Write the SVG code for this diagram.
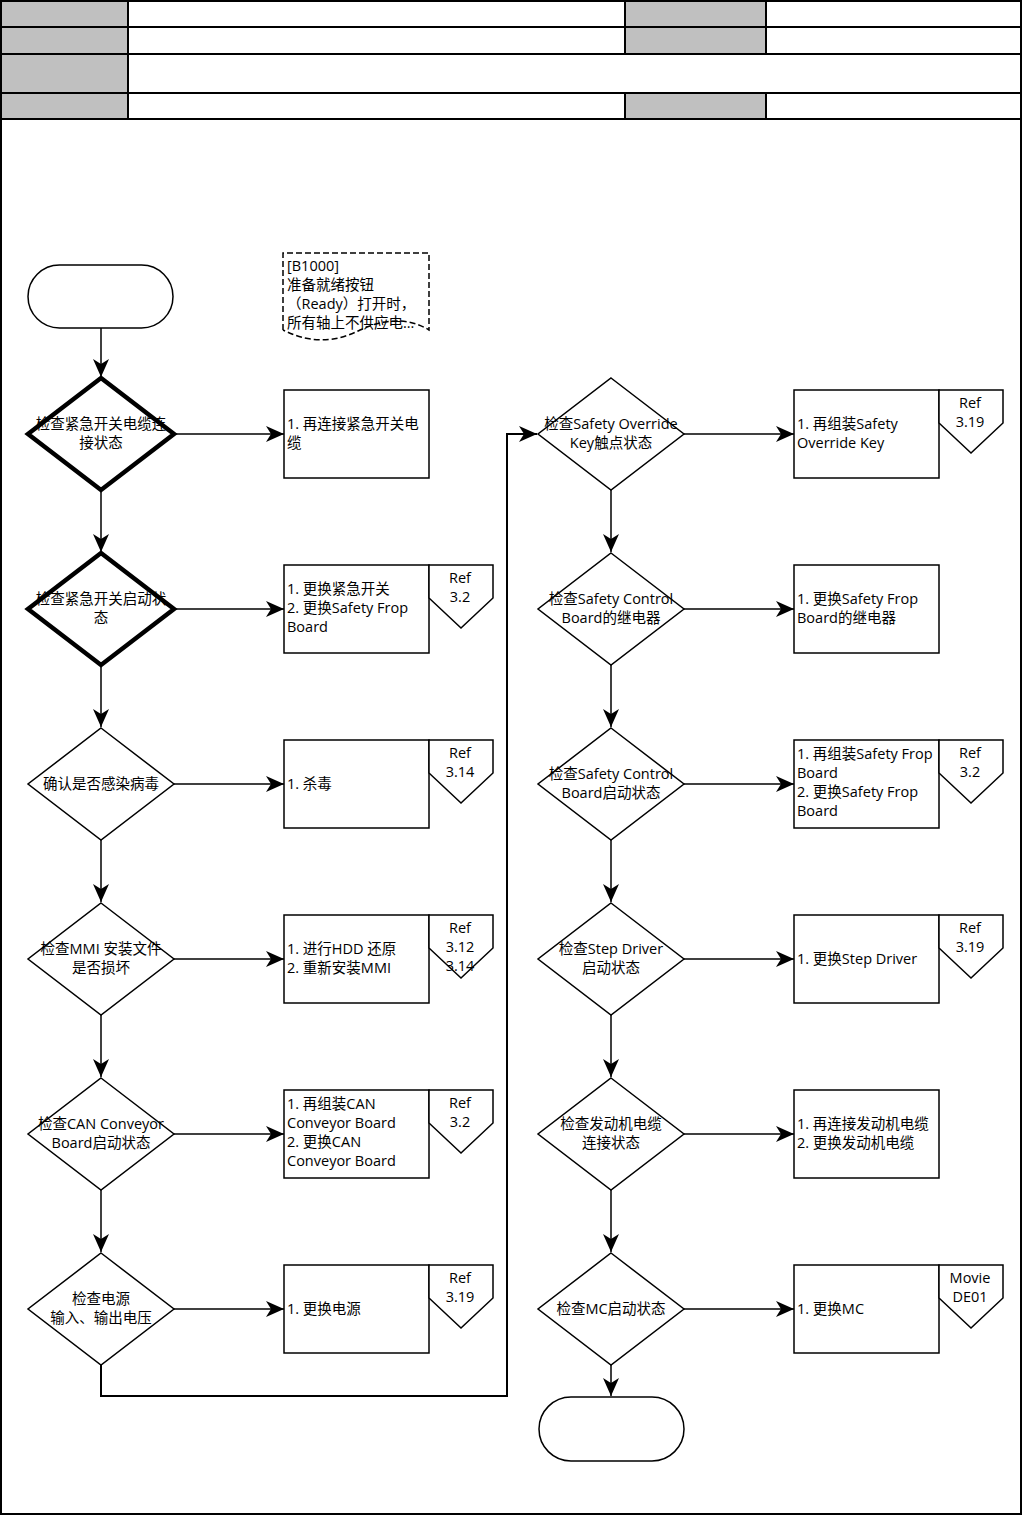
<svg xmlns="http://www.w3.org/2000/svg" width="1023" height="1516" viewBox="0 0 1023 1516">
<style>
text{font-family:"Open Sans","Noto Sans CJK SC",sans-serif;font-size:14.5px;fill:#000;dominant-baseline:central}
.c{text-anchor:middle}
.hdr{fill:#c0c0c0;stroke:none}
.ln{stroke:#000;stroke-width:2;fill:none}
.dia{fill:#fff;stroke:#000;stroke-width:1.5}
.dia.thick{stroke-width:4.5}
.box{fill:#fff;stroke:#000;stroke-width:1.5}
.tag{fill:#fff;stroke:#000;stroke-width:1.5}
.term{fill:#fff;stroke:#000;stroke-width:1.5}
.con{stroke:#000;stroke-width:1.5;fill:none}
.con2{stroke:#000;stroke-width:2;fill:none}
</style>
<defs>
<marker id="arr" viewBox="0 0 18 16" refX="18" refY="8" markerWidth="18" markerHeight="16" markerUnits="userSpaceOnUse" orient="auto">
<path d="M0,0 L18,8 L0,16 L5,8 Z" fill="#000"/>
</marker>
</defs>
<rect x="0" y="0" width="1023" height="1516" fill="#fff"/>
<g id="header">
<rect class="hdr" x="2" y="2" width="126" height="25"/>
<rect class="hdr" x="625" y="2" width="141" height="25"/>
<rect class="hdr" x="2" y="27" width="126" height="27"/>
<rect class="hdr" x="625" y="27" width="141" height="27"/>
<rect class="hdr" x="2" y="54" width="126" height="39"/>
<rect class="hdr" x="2" y="93" width="126" height="26"/>
<rect class="hdr" x="625" y="93" width="141" height="26"/>
<path class="ln" d="M1,27 H1021 M1,54 H1021 M1,93 H1021 M1,119 H1021 M128,1 V119 M625,1 V54 M766,1 V54 M625,93 V119 M766,93 V119"/>
<rect x="1" y="1" width="1020" height="1513" fill="none" stroke="#000" stroke-width="2"/>
</g>
<g id="connectors">
<path class="con" d="M101,328 V377" marker-end="url(#arr)"/>
<path class="con" d="M101,490 V552" marker-end="url(#arr)"/>
<path class="con" d="M101,665 V727" marker-end="url(#arr)"/>
<path class="con" d="M101,840 V902" marker-end="url(#arr)"/>
<path class="con" d="M101,1015 V1077" marker-end="url(#arr)"/>
<path class="con" d="M101,1190 V1252" marker-end="url(#arr)"/>
<path class="con2" d="M101,1365 V1396 H507 V434 H537" marker-end="url(#arr)"/>
<path class="con" d="M611,490 V552" marker-end="url(#arr)"/>
<path class="con" d="M611,665 V727" marker-end="url(#arr)"/>
<path class="con" d="M611,840 V902" marker-end="url(#arr)"/>
<path class="con" d="M611,1015 V1077" marker-end="url(#arr)"/>
<path class="con" d="M611,1190 V1252" marker-end="url(#arr)"/>
<path class="con" d="M611,1365 V1396" marker-end="url(#arr)"/>
<path class="con" d="M174,434 H284" marker-end="url(#arr)"/>
<path class="con" d="M174,609 H284" marker-end="url(#arr)"/>
<path class="con" d="M174,784 H284" marker-end="url(#arr)"/>
<path class="con" d="M174,959 H284" marker-end="url(#arr)"/>
<path class="con" d="M174,1134 H284" marker-end="url(#arr)"/>
<path class="con" d="M174,1309 H284" marker-end="url(#arr)"/>
<path class="con" d="M684,434 H794" marker-end="url(#arr)"/>
<path class="con" d="M684,609 H794" marker-end="url(#arr)"/>
<path class="con" d="M684,784 H794" marker-end="url(#arr)"/>
<path class="con" d="M684,959 H794" marker-end="url(#arr)"/>
<path class="con" d="M684,1134 H794" marker-end="url(#arr)"/>
<path class="con" d="M684,1309 H794" marker-end="url(#arr)"/>
</g>
<g id="start"><rect class="term" x="28" y="265" width="145" height="63" rx="31.5"/></g>
<g id="end"><rect class="term" x="539" y="1397" width="145" height="64" rx="32"/></g>
<g id="note">
<path d="M283,330 V253 H429 V330 C410,318 385,318 360,330 C340,340 315,346 283,330" fill="#fff" stroke="#000" stroke-width="1.5" stroke-dasharray="6,3"/>
<text x="287" y="265">[B1000]</text>
<text x="287" y="284">准备就绪按钮</text>
<text x="287" y="303">（Ready）打开时，</text>
<text x="287" y="322">所有轴上不供应电...</text>
</g>
<g id="d1"><path class="dia thick" d="M101,378 L174,434 L101,490 L28,434 Z"/><text class="c" x="101" y="423">检查紧急开关电缆连</text><text class="c" x="101" y="442">接状态</text></g>
<g id="d2"><path class="dia thick" d="M101,553 L174,609 L101,665 L28,609 Z"/><text class="c" x="101" y="598">检查紧急开关启动状</text><text class="c" x="101" y="617">态</text></g>
<g id="d3"><path class="dia" d="M101,728 L174,784 L101,840 L28,784 Z"/><text class="c" x="101" y="783">确认是否感染病毒</text></g>
<g id="d4"><path class="dia" d="M101,903 L174,959 L101,1015 L28,959 Z"/><text class="c" x="101" y="948">检查MMI 安装文件</text><text class="c" x="101" y="967">是否损坏</text></g>
<g id="d5"><path class="dia" d="M101,1078 L174,1134 L101,1190 L28,1134 Z"/><text class="c" x="101" y="1123">检查CAN Conveyor</text><text class="c" x="101" y="1142">Board启动状态</text></g>
<g id="d6"><path class="dia" d="M101,1253 L174,1309 L101,1365 L28,1309 Z"/><text class="c" x="101" y="1298">检查电源</text><text class="c" x="101" y="1317">输入、输出电压</text></g>
<g id="b1"><rect class="box" x="284" y="390" width="145" height="88"/><text x="287" y="423">1. 再连接紧急开关电</text><text x="287" y="442">缆</text></g>
<g id="b2"><rect class="box" x="284" y="565" width="145" height="88"/><text x="287" y="588">1. 更换紧急开关</text><text x="287" y="607">2. 更换Safety Frop</text><text x="287" y="626">Board</text>
<path class="tag" d="M429,565 H493 V598 L461,628 L429,598 Z"/><text class="c" x="460" y="577">Ref</text><text class="c" x="460" y="596">3.2</text></g>
<g id="b3"><rect class="box" x="284" y="740" width="145" height="88"/><text x="287" y="783">1. 杀毒</text>
<path class="tag" d="M429,740 H493 V773 L461,803 L429,773 Z"/><text class="c" x="460" y="752">Ref</text><text class="c" x="460" y="771">3.14</text></g>
<g id="b4"><rect class="box" x="284" y="915" width="145" height="88"/><text x="287" y="948">1. 进行HDD 还原</text><text x="287" y="967">2. 重新安装MMI</text>
<path class="tag" d="M429,915 H493 V948 L461,978 L429,948 Z"/><text class="c" x="460" y="927">Ref</text><text class="c" x="460" y="946">3.12</text><text class="c" x="460" y="965">3.14</text></g>
<g id="b5"><rect class="box" x="284" y="1090" width="145" height="88"/><text x="287" y="1103">1. 再组装CAN</text><text x="287" y="1122">Conveyor Board</text><text x="287" y="1141">2. 更换CAN</text><text x="287" y="1160">Conveyor Board</text>
<path class="tag" d="M429,1090 H493 V1123 L461,1153 L429,1123 Z"/><text class="c" x="460" y="1102">Ref</text><text class="c" x="460" y="1121">3.2</text></g>
<g id="b6"><rect class="box" x="284" y="1265" width="145" height="88"/><text x="287" y="1308">1. 更换电源</text>
<path class="tag" d="M429,1265 H493 V1298 L461,1328 L429,1298 Z"/><text class="c" x="460" y="1277">Ref</text><text class="c" x="460" y="1296">3.19</text></g>
<g id="d7"><path class="dia" d="M611,378 L684,434 L611,490 L538,434 Z"/><text class="c" x="611" y="423">检查Safety Override</text><text class="c" x="611" y="442">Key触点状态</text></g>
<g id="d8"><path class="dia" d="M611,553 L684,609 L611,665 L538,609 Z"/><text class="c" x="611" y="598">检查Safety Control</text><text class="c" x="611" y="617">Board的继电器</text></g>
<g id="d9"><path class="dia" d="M611,728 L684,784 L611,840 L538,784 Z"/><text class="c" x="611" y="773">检查Safety Control</text><text class="c" x="611" y="792">Board启动状态</text></g>
<g id="d10"><path class="dia" d="M611,903 L684,959 L611,1015 L538,959 Z"/><text class="c" x="611" y="948">检查Step Driver</text><text class="c" x="611" y="967">启动状态</text></g>
<g id="d11"><path class="dia" d="M611,1078 L684,1134 L611,1190 L538,1134 Z"/><text class="c" x="611" y="1123">检查发动机电缆</text><text class="c" x="611" y="1142">连接状态</text></g>
<g id="d12"><path class="dia" d="M611,1253 L684,1309 L611,1365 L538,1309 Z"/><text class="c" x="611" y="1308">检查MC启动状态</text></g>
<g id="b7"><rect class="box" x="794" y="390" width="145" height="88"/><text x="797" y="423">1. 再组装Safety</text><text x="797" y="442">Override Key</text>
<path class="tag" d="M939,390 H1003 V423 L971,453 L939,423 Z"/><text class="c" x="970" y="402">Ref</text><text class="c" x="970" y="421">3.19</text></g>
<g id="b8"><rect class="box" x="794" y="565" width="145" height="88"/><text x="797" y="598">1. 更换Safety Frop</text><text x="797" y="617">Board的继电器</text></g>
<g id="b9"><rect class="box" x="794" y="740" width="145" height="88"/><text x="797" y="753">1. 再组装Safety Frop</text><text x="797" y="772">Board</text><text x="797" y="791">2. 更换Safety Frop</text><text x="797" y="810">Board</text>
<path class="tag" d="M939,740 H1003 V773 L971,803 L939,773 Z"/><text class="c" x="970" y="752">Ref</text><text class="c" x="970" y="771">3.2</text></g>
<g id="b10"><rect class="box" x="794" y="915" width="145" height="88"/><text x="797" y="958">1. 更换Step Driver</text>
<path class="tag" d="M939,915 H1003 V948 L971,978 L939,948 Z"/><text class="c" x="970" y="927">Ref</text><text class="c" x="970" y="946">3.19</text></g>
<g id="b11"><rect class="box" x="794" y="1090" width="145" height="88"/><text x="797" y="1123">1. 再连接发动机电缆</text><text x="797" y="1142">2. 更换发动机电缆</text></g>
<g id="b12"><rect class="box" x="794" y="1265" width="145" height="88"/><text x="797" y="1308">1. 更换MC</text>
<path class="tag" d="M939,1265 H1003 V1298 L971,1328 L939,1298 Z"/><text class="c" x="970" y="1277">Movie</text><text class="c" x="970" y="1296">DE01</text></g>
</svg>
